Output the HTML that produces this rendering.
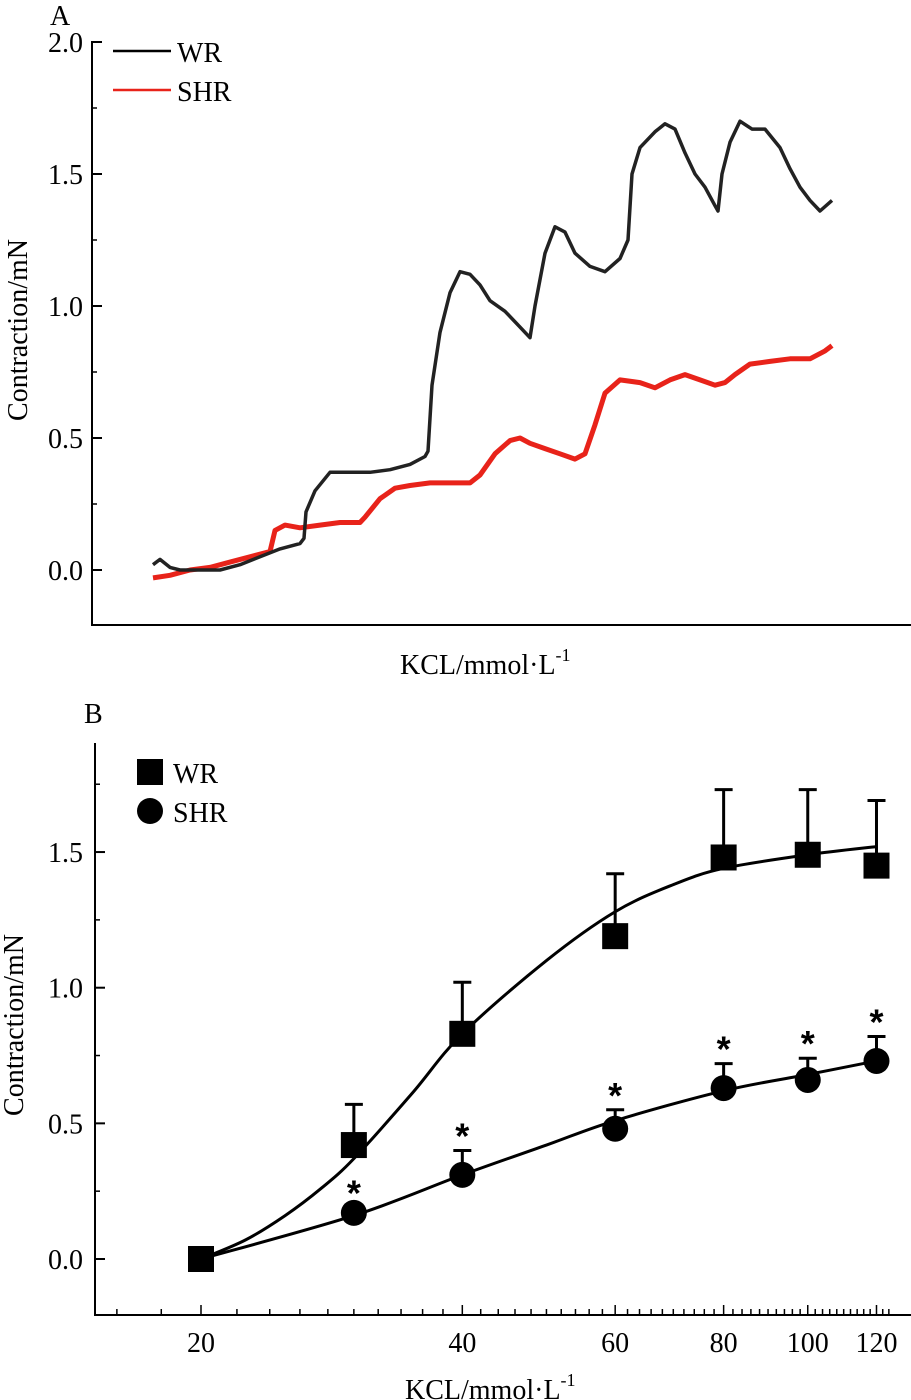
<!DOCTYPE html>
<html><head><meta charset="utf-8"><style>
html,body{margin:0;padding:0;background:#fff;}
svg{display:block;font-family:"Liberation Serif",serif;}
</style></head><body>
<svg id="chart" width="911" height="1400" viewBox="0 0 911 1400" xmlns="http://www.w3.org/2000/svg">
<g id="panelA"></g>
<g id="panelB"></g>
</svg>
<script>
// ---- Panel A data (time trace, arbitrary time units) ----
const aTimeWR = [0,0.7,1.7,2.7,4.7,6.7,8.7,10.7,12.7,14.7,15.1,15.3,16.2,17.7,19.7,21.7,23.7,25.7,27.2,27.5,27.9,28.7,29.7,30.7,31.7,32.7,33.7,35.2,36.7,37.7,38.2,39.2,40.2,41.2,42.2,43.7,45.2,46.7,47.5,47.9,48.7,50.2,51.2,52.2,53.2,54.2,55.2,56.2,56.5,56.9,57.7,58.7,59.9,61.2,62.7,63.7,64.7,65.7,66.7,67.9];
const aValWR  = [0.02,0.04,0.01,0.0,0.0,0.0,0.02,0.05,0.08,0.1,0.12,0.22,0.3,0.37,0.37,0.37,0.38,0.4,0.43,0.45,0.7,0.9,1.05,1.13,1.12,1.08,1.02,0.98,0.92,0.88,1.0,1.2,1.3,1.28,1.2,1.15,1.13,1.18,1.25,1.5,1.6,1.66,1.69,1.67,1.58,1.5,1.45,1.38,1.36,1.5,1.62,1.7,1.67,1.67,1.6,1.52,1.45,1.4,1.36,1.4];
const aTimeSHR = [0,1.7,3.7,5.7,7.7,9.7,11.7,12.2,13.2,14.7,16.7,18.7,20.7,21.2,22.7,24.2,25.7,27.7,29.7,31.7,32.7,34.2,35.7,36.7,37.7,39.2,40.7,42.2,43.2,44.2,45.2,46.7,48.7,50.2,51.7,53.2,54.7,56.2,57.2,58.2,59.7,61.7,63.7,65.7,67.2,67.9];
const aValSHR  = [-0.03,-0.02,0.0,0.01,0.03,0.05,0.07,0.15,0.17,0.16,0.17,0.18,0.18,0.2,0.27,0.31,0.32,0.33,0.33,0.33,0.36,0.44,0.49,0.5,0.48,0.46,0.44,0.42,0.44,0.55,0.67,0.72,0.71,0.69,0.72,0.74,0.72,0.7,0.71,0.74,0.78,0.79,0.8,0.8,0.83,0.85];
const aTicksMajor = [0.0,0.5,1.0,1.5,2.0];
const aTickLabels = ["0.0","0.5","1.0","1.5","2.0"];

// ---- Panel B data ----
const bConc = [20,30,40,60,80,100,120];
const bWR = [0,0.42,0.83,1.19,1.48,1.49,1.45];
const bWRerr = [0,0.15,0.19,0.23,0.25,0.24,0.24];
const bSHR = [0,0.17,0.31,0.48,0.63,0.66,0.73];
const bSHRerr = [0,0.02,0.09,0.07,0.09,0.08,0.09];
const bSHRsig = [false,true,true,true,true,true,true];
const bFitConc = [20,22.5,25,27.5,30,35,40,50,60,70,80,100,120];
const bFitWR = [0,0.07,0.16,0.26,0.37,0.61,0.83,1.1,1.28,1.38,1.44,1.49,1.52];
const bFitConcS = [20,30,40,50,60,80,100,120];
const bFitSHR = [0,0.16,0.31,0.42,0.51,0.62,0.68,0.73];
const bTicksMajor = [0.0,0.5,1.0,1.5];
const bTickLabels = ["0.0","0.5","1.0","1.5"];
const bXLabels = [20,40,60,80,100,120];

const NS="http://www.w3.org/2000/svg";
function mk(parent,tag,attrs,text){const e=document.createElementNS(NS,tag);for(const k in attrs)e.setAttribute(k,attrs[k]);if(text!==undefined)e.textContent=text;parent.appendChild(e);return e;}
const FS=28;

// ---------- Panel A ----------
const A=document.getElementById('panelA');
const ayA=v=>570-264*v;
const axA=t=>153+10*t;
let e;
e=mk(A,'text',{x:50,y:25,'font-size':FS});e.textContent='A';


e=mk(A,'line',{x1:92,y1:41,x2:92,y2:625,stroke:'#000','stroke-width':2});


e=mk(A,'line',{x1:91,y1:625,x2:911,y2:625,stroke:'#000','stroke-width':2});


aTicksMajor.forEach((v,i)=>{
  const y=ayA(v);
  e=mk(A,'line',{x1:92,y1:y,x2:102,y2:y,stroke:'#000','stroke-width':2});
  
  
  e=mk(A,'text',{x:83,y:y+10,'font-size':FS,'text-anchor':'end'},aTickLabels[i]);
  
  
  if(i<aTicksMajor.length-1){
    const ym=ayA(v+0.25);
    e=mk(A,'line',{x1:92,y1:ym,x2:97,y2:ym,stroke:'#000','stroke-width':1.5});
    
    
  }
});
e=mk(A,'text',{transform:'translate(27,330) rotate(-90)','font-size':FS,'text-anchor':'middle'},'Contraction/mN');


e=mk(A,'text',{x:400,y:674,'font-size':FS});
e.innerHTML='KCL/mmol·L<tspan dy="-13" font-size="18">-1</tspan>';


function tracePath(ts,vs){return ts.map((t,i)=>(i?'L':'M')+axA(t).toFixed(1)+','+ayA(vs[i]).toFixed(1)).join(' ');}
e=mk(A,'path',{d:tracePath(aTimeSHR,aValSHR),fill:'none',stroke:'#e8231a','stroke-width':5,'stroke-linejoin':'round'});


e=mk(A,'path',{d:tracePath(aTimeWR,aValWR),fill:'none',stroke:'#222','stroke-width':3.5,'stroke-linejoin':'round'});


e=mk(A,'line',{x1:113,y1:51,x2:171,y2:51,stroke:'#000','stroke-width':2.5});


e=mk(A,'text',{x:177,y:62,'font-size':FS},'WR');


e=mk(A,'line',{x1:113,y1:90,x2:171,y2:90,stroke:'#e8231a','stroke-width':2.5});


e=mk(A,'text',{x:177,y:101,'font-size':FS},'SHR');



// ---------- Panel B ----------
const B=document.getElementById('panelB');
const ayB=v=>1259-271.3*v;
const axB=c=>201+377*Math.log(c/20);
e=mk(B,'text',{x:84,y:723,'font-size':FS},'B');


e=mk(B,'line',{x1:95,y1:743,x2:95,y2:1316,stroke:'#000','stroke-width':2});


e=mk(B,'line',{x1:94,y1:1315,x2:911,y2:1315,stroke:'#000','stroke-width':2});


bTicksMajor.forEach((v,i)=>{
  const y=ayB(v);
  e=mk(B,'line',{x1:95,y1:y,x2:105,y2:y,stroke:'#000','stroke-width':2});
  
  
  e=mk(B,'text',{x:83,y:y+10,'font-size':FS,'text-anchor':'end'},bTickLabels[i]);
  
  
  const ym=ayB(v+0.25);
  e=mk(B,'line',{x1:95,y1:ym,x2:100,y2:ym,stroke:'#000','stroke-width':1.5});
  
  
});
for(let c=16;c<=124;c+=2){
  const x=axB(c);const major=bXLabels.includes(c);
  e=mk(B,'line',{x1:x,y1:1315,x2:x,y2:major?1305:1309,stroke:'#000','stroke-width':1.5});
  
  
}
bXLabels.forEach(c=>{
  e=mk(B,'text',{x:axB(c),y:1352,'font-size':FS,'text-anchor':'middle'},String(c));
  
  
});
e=mk(B,'text',{transform:'translate(23,1025) rotate(-90)','font-size':FS,'text-anchor':'middle'},'Contraction/mN');


e=mk(B,'text',{x:405,y:1399,'font-size':FS});
e.innerHTML='KCL/mmol·L<tspan dy="-13" font-size="18">-1</tspan>';


function smooth(cs,vs){
  const p=cs.map((c,i)=>[axB(c),ayB(vs[i])]);let d='M'+p[0][0]+','+p[0][1];
  for(let i=0;i<p.length-1;i++){const p0=p[i-1]||p[i],p1=p[i],p2=p[i+1],p3=p[i+2]||p2;
    d+=' C'+(p1[0]+(p2[0]-p0[0])/6)+','+(p1[1]+(p2[1]-p0[1])/6)+' '+(p2[0]-(p3[0]-p1[0])/6)+','+(p2[1]-(p3[1]-p1[1])/6)+' '+p2[0]+','+p2[1];}
  return d;}
e=mk(B,'path',{d:smooth(bFitConc,bFitWR),fill:'none',stroke:'#000','stroke-width':3});


e=mk(B,'path',{d:smooth(bFitConcS,bFitSHR),fill:'none',stroke:'#000','stroke-width':3});


bConc.forEach((c,i)=>{
  const x=axB(c);
  if(bWRerr[i]>0){const yt=ayB(bWR[i]+bWRerr[i]);
    e=mk(B,'path',{d:`M${x},${ayB(bWR[i])} V${yt} M${x-9},${yt} H${x+9}`,stroke:'#000','stroke-width':3,fill:'none'});
    
    }
  e=mk(B,'rect',{x:x-13,y:ayB(bWR[i])-13,width:26,height:26,fill:'#000'});
  
  
  if(bSHRerr[i]>0){const yt=ayB(bSHR[i]+bSHRerr[i]);
    e=mk(B,'path',{d:`M${x},${ayB(bSHR[i])} V${yt} M${x-9},${yt} H${x+9}`,stroke:'#000','stroke-width':3,fill:'none'});
    
    }
  e=mk(B,'circle',{cx:x,cy:ayB(bSHR[i]),r:13,fill:'#000'});
  
  
  if(bSHRsig[i]){
    e=mk(B,'text',{x:x,y:ayB(bSHR[i]+bSHRerr[i])-2,'font-size':36,'font-weight':'bold','text-anchor':'middle','font-family':'"Liberation Sans",sans-serif'},'*');
    
    
  }
});
e=mk(B,'rect',{x:137,y:759,width:26,height:26,fill:'#000'});


e=mk(B,'text',{x:173,y:783,'font-size':FS},'WR');


e=mk(B,'circle',{cx:150,cy:811,r:13,fill:'#000'});


e=mk(B,'text',{x:173,y:822,'font-size':FS},'SHR');


</script>
</body></html>
